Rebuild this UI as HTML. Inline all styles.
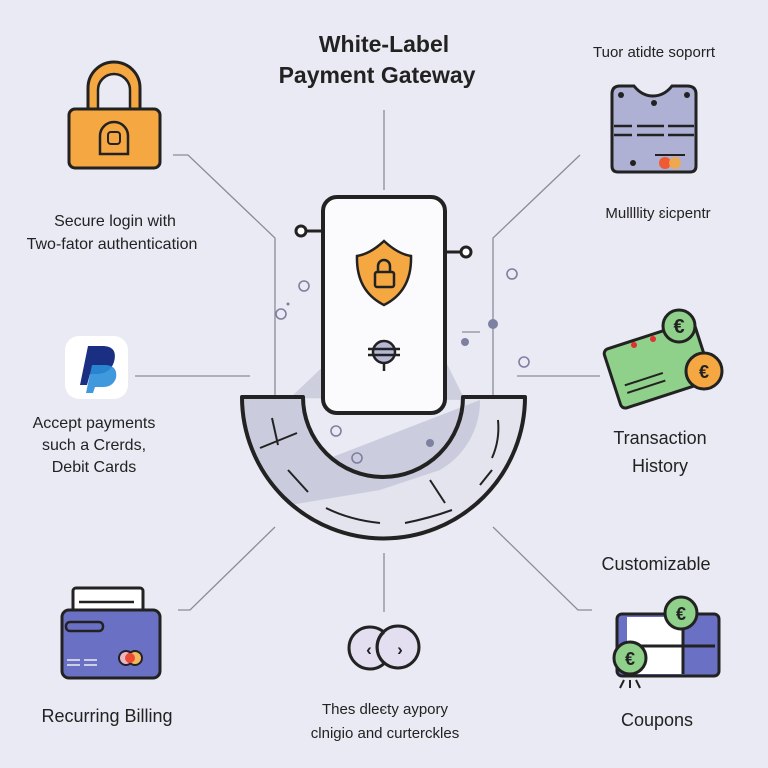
<!DOCTYPE html>
<html><head><meta charset="utf-8"><style>
html,body{margin:0;padding:0;background:#e9eaf3;}
svg{display:block}
text{font-family:"Liberation Sans",sans-serif;fill:#222}
</style></head><body>
<svg width="768" height="768" viewBox="0 0 768 768" xmlns="http://www.w3.org/2000/svg">
<rect width="768" height="768" fill="#e9eaf3"/>
<g stroke="#8a8c98" stroke-width="1.3" fill="none">
<path d="M384 110 V190"/>
<path d="M173 155 H188 L275 238 V395"/>
<path d="M580 155 L493 238 V395"/>
<path d="M135 376 H250"/>
<path d="M517 376 H600"/>
<path d="M275 527 L190 610 H178"/>
<path d="M384 553 V612"/>
<path d="M493 527 L578 610 H592"/>
</g>
<path d="M242 397 H303 A80 80 0 0 0 463 397 H525 A141.5 141.5 0 0 1 242 397 Z" fill="#e3e4ee"/>
<path d="M242 397 H303 A80 80 0 0 0 330 458 L480 400 A80 80 0 0 1 440 470 L380 490 L290 505 A141.5 141.5 0 0 1 242 397Z" fill="#c6c8da" opacity="0.85"/>
<path d="M290 398 L330 360 L445 360 L465 400 Z" fill="#c6c8da" opacity="0.8"/>
<path d="M242 397 H303 A80 80 0 0 0 463 397 H525 A141.5 141.5 0 0 1 242 397 Z" fill="none" stroke="#222" stroke-width="4" stroke-linejoin="round"/>
<g stroke="#222" stroke-width="2" fill="none">
<path d="M272 418 L278 445"/><path d="M260 448 L297 433"/>
<path d="M288 470 L308 492"/>
<path d="M326 508 Q350 520 380 523"/>
<path d="M405 523 Q430 518 452 510"/>
<path d="M430 480 L445 503"/>
<path d="M480 485 L492 470"/>
<path d="M492 458 Q500 440 498 420"/>
</g>
<rect x="323" y="197" width="122" height="216" rx="14" fill="#fbfbfd" stroke="#222" stroke-width="4"/>
<g stroke="#222" stroke-width="3" fill="#fff">
<path d="M303 231 H322"/><circle cx="301" cy="231" r="5"/>
<path d="M446 252 H462"/><circle cx="466" cy="252" r="5"/>
</g>
<path d="M384 241 Q370 254 357 256 Q356 291 384 305 Q412 291 411 256 Q398 254 384 241Z" fill="#f5a742" stroke="#222" stroke-width="2.5"/>
<rect x="375" y="272" width="19" height="15" rx="2" fill="none" stroke="#222" stroke-width="2.5"/>
<path d="M378 272 V266 A6 6 0 0 1 390 266 V272" fill="none" stroke="#222" stroke-width="2.5"/>
<circle cx="384" cy="352" r="11" fill="#b6b8d6" stroke="#222" stroke-width="2.5"/>
<path d="M368 349 H400 M368 355 H400 M384 363 V371" stroke="#222" stroke-width="2.5"/>
<g fill="none" stroke="#7d80a0" stroke-width="1.6">
<circle cx="304" cy="286" r="5"/><circle cx="281" cy="314" r="5"/>
<circle cx="512" cy="274" r="5"/><circle cx="524" cy="362" r="5"/>
<circle cx="336" cy="431" r="5"/><circle cx="357" cy="458" r="5"/>
</g>
<g fill="#7d80a0"><circle cx="493" cy="324" r="5"/><circle cx="465" cy="342" r="4"/><circle cx="430" cy="443" r="4"/><circle cx="288" cy="304" r="1.5"/></g>
<path d="M462 332 H480" stroke="#8a8c98" stroke-width="1.3"/>
<text x="384" y="52" font-size="23" font-weight="bold" text-anchor="middle">White-Label</text>
<text x="377" y="83" font-size="23" font-weight="bold" text-anchor="middle">Payment Gateway</text>
<path d="M88 110 V88 A26 26 0 0 1 140 88 V110" fill="#f5a742" stroke="#222" stroke-width="3"/>
<path d="M98 110 V90 A16 16 0 0 1 130 90 V110 Z" fill="#e9eaf3" stroke="#222" stroke-width="2.5"/>
<rect x="69" y="109" width="91" height="59" rx="6" fill="#f5a742" stroke="#222" stroke-width="3"/>
<path d="M100 154 V136 A14 14 0 0 1 128 136 V154 Z" fill="none" stroke="#222" stroke-width="2.5"/>
<rect x="108" y="132" width="12" height="12" rx="3" fill="none" stroke="#222" stroke-width="2"/>
<text x="115" y="226" font-size="16" text-anchor="middle">Secure login with</text>
<text x="112" y="249" font-size="16" text-anchor="middle">Two-fator authentication</text>
<rect x="65" y="336" width="63" height="63" rx="14" fill="#fff"/>
<path d="M80 385 L88 346 H104 Q118 347 114 362 Q110 374 96 374 H90 L87 385 Z" fill="#1b2f82"/>
<path d="M86 393 L92 365 H106 Q118 366 116 378 Q113 387 103 387 H95 L93 393 Z" fill="#2a8ed8" opacity="0.9"/>
<text x="94" y="428" font-size="16" text-anchor="middle">Accept payments</text>
<text x="94" y="450" font-size="16" text-anchor="middle">such a Crerds,</text>
<text x="94" y="472" font-size="16" text-anchor="middle">Debit Cards</text>
<text x="654" y="57" font-size="15" text-anchor="middle">Tuor  atidte soporrt</text>
<path d="M612 94 Q612 86 620 86 H634 Q642 96 653 96 Q664 96 672 86 H687 Q696 86 696 94 V166 Q696 172 690 172 H618 Q612 172 612 166 Z" fill="#aeb0d4" stroke="#222" stroke-width="3"/>
<g fill="#222"><circle cx="621" cy="95" r="3"/><circle cx="687" cy="95" r="3"/><circle cx="654" cy="103" r="3"/><circle cx="633" cy="163" r="3"/></g>
<path d="M614 126 H632 M637 126 H664 M668 126 H694 M614 135 H632 M637 135 H664 M668 135 H694" stroke="#222" stroke-width="2.5"/>
<circle cx="665" cy="163" r="6" fill="#ee5a33"/><circle cx="675" cy="163" r="6" fill="#f5a742" opacity="0.9"/>
<path d="M655 155 H685" stroke="#222" stroke-width="2"/>
<text x="658" y="218" font-size="15" text-anchor="middle">Mullllity ɛicpentr</text>
<g transform="rotate(-18 655 365)">
<rect x="610" y="335" width="95" height="62" rx="5" fill="#8fd08a" stroke="#222" stroke-width="3"/>
<path d="M620 375 H660 M620 383 H660" stroke="#222" stroke-width="2"/>
</g>
<circle cx="634" cy="345" r="3" fill="#e03030"/><circle cx="653" cy="339" r="3" fill="#e03030"/>
<circle cx="679" cy="326" r="16" fill="#8fd08a" stroke="#222" stroke-width="3"/>
<text x="679" y="333" font-size="20" font-weight="bold" text-anchor="middle">€</text>
<circle cx="704" cy="371" r="18" fill="#f5a742" stroke="#222" stroke-width="3"/>
<text x="704" y="378" font-size="18" font-weight="bold" text-anchor="middle">€</text>
<text x="660" y="444" font-size="18" text-anchor="middle">Transaction</text>
<text x="660" y="472" font-size="18" text-anchor="middle">History</text>
<text x="656" y="570" font-size="18" text-anchor="middle">Customizable</text>
<rect x="617" y="614" width="102" height="62" rx="5" fill="#6a70c4" stroke="#222" stroke-width="3"/>
<rect x="627" y="617" width="56" height="57" fill="#fff"/>
<path d="M683 617 V674 M627 646 H715" stroke="#222" stroke-width="3"/>
<circle cx="681" cy="613" r="16" fill="#8fd08a" stroke="#222" stroke-width="3"/>
<text x="681" y="620" font-size="18" font-weight="bold" text-anchor="middle">€</text>
<circle cx="630" cy="658" r="16" fill="#8fd08a" stroke="#222" stroke-width="3"/>
<text x="630" y="665" font-size="18" font-weight="bold" text-anchor="middle">€</text>
<path d="M624 680 L620 688 M630 680 V688 M636 680 L640 688" stroke="#222" stroke-width="2"/>
<text x="657" y="726" font-size="18" text-anchor="middle">Coupons</text>
<rect x="73" y="588" width="70" height="28" rx="3" fill="#fff" stroke="#222" stroke-width="3"/>
<path d="M79 602 H134" stroke="#222" stroke-width="2.5"/>
<rect x="62" y="610" width="98" height="68" rx="7" fill="#6a70c4" stroke="#222" stroke-width="3"/>
<rect x="66" y="622" width="37" height="9" rx="4" fill="#6a70c4" stroke="#222" stroke-width="2.5"/>
<path d="M67 660 H80 M84 660 H97 M67 665 H80 M84 665 H97" stroke="#eee" stroke-width="1.5"/>
<circle cx="126" cy="658" r="7" fill="#e6b8c8" stroke="#222" stroke-width="2"/>
<circle cx="135" cy="658" r="7" fill="#f5b860" stroke="#222" stroke-width="2"/>
<circle cx="130" cy="658" r="5" fill="#ee4a33"/>
<text x="107" y="722" font-size="18" text-anchor="middle">Recurring Billing</text>
<circle cx="370" cy="648" r="21" fill="#e3def0" stroke="#222" stroke-width="3"/>
<circle cx="398" cy="647" r="21" fill="#e3def0" stroke="#222" stroke-width="3"/>
<path d="M384 632 A21 21 0 0 0 384 663" fill="none" stroke="#222" stroke-width="3"/>
<text x="369" y="655" font-size="17" font-weight="bold" text-anchor="middle">‹</text>
<text x="400" y="655" font-size="17" font-weight="bold" text-anchor="middle">›</text>
<text x="385" y="714" font-size="15" text-anchor="middle">Thes dleєty aypory</text>
<text x="385" y="738" font-size="15" text-anchor="middle">clnigio and curterckles</text>
</svg>
</body></html>
